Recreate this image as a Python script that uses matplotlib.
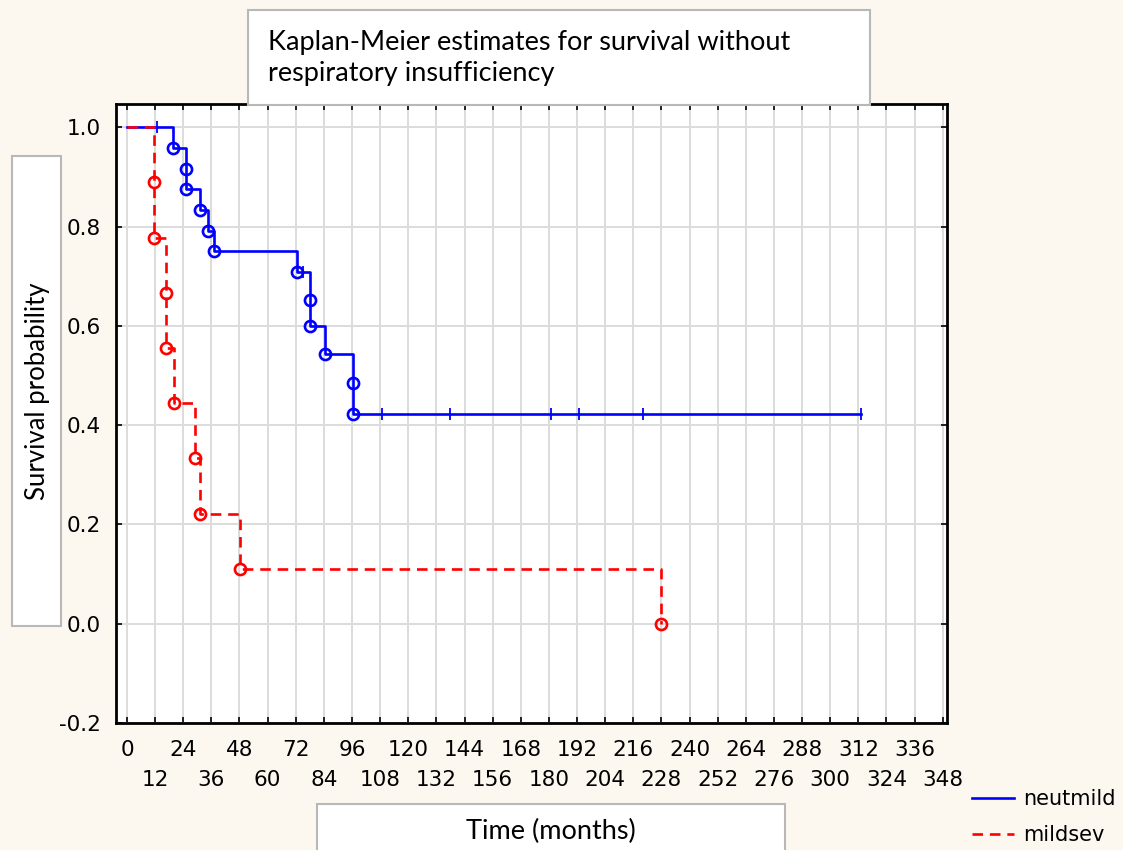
import matplotlib
matplotlib.use("Agg")
import matplotlib.pyplot as plt
from matplotlib.patches import Rectangle

plt.rcParams['font.family'] = ['DejaVu Sans']

# neutmild group: event times (months) and survival after each event
neut_event_t = [19.5, 25, 25, 31, 34.5, 37, 72.5, 78, 78, 84.5, 96.5, 96.5]
neut_surv = [0.958, 0.917, 0.875, 0.833, 0.792, 0.750, 0.708, 0.653, 0.600, 0.544, 0.484, 0.423]
neut_censor_t = [13, 75, 109, 138, 181, 193, 220, 313]
neut_end = 313

# mildsev group
mild_event_t = [11.7, 11.7, 16.7, 16.7, 20, 29, 31.2, 48.3, 228]
mild_surv = [0.889, 0.778, 0.667, 0.556, 0.444, 0.333, 0.222, 0.111, 0.0]

x_major = list(range(0, 337, 24))
x_minor = list(range(12, 349, 24))
y_ticks = [-0.2, 0.0, 0.2, 0.4, 0.6, 0.8, 1.0]

W, H = 1123, 850
BG = '#fdf8ef'
BOX_EC = '#b8b8b8'
BOX_FONT = ['Lato', 'DejaVu Sans']


def surv_at(t, ev_t, ev_s):
    s = 1.0
    for et, es in zip(ev_t, ev_s):
        if et <= t:
            s = es
    return s


fig = plt.figure(figsize=(W / 100, H / 100), dpi=100, facecolor=BG)
ax = fig.add_axes([115.7 / W, (H - 723) / H, (946.7 - 115.7) / W, (723 - 104) / H])
ax.set_facecolor('white')

# step curves
nx = [0] + neut_event_t + [neut_end]
ny = [1.0] + neut_surv + [neut_surv[-1]]
ax.plot(nx, ny, drawstyle='steps-post', color='#0000ff', lw=1.9, label='neutmild', zorder=3)
ax.plot(neut_event_t, neut_surv, 'o', ms=8, mfc='none', mec='#0000ff', mew=1.9, zorder=4)
ax.plot(neut_censor_t, [surv_at(t, neut_event_t, neut_surv) for t in neut_censor_t],
        '|', ms=8, mec='#0000ff', mew=1.3, zorder=4)

mx = [0] + mild_event_t
my = [1.0] + mild_surv
ax.plot(mx, my, drawstyle='steps-post', color='#ff0000', lw=1.9, dashes=(4, 2.6),
        label='mildsev', zorder=5)
ax.plot(mild_event_t, mild_surv, 'o', ms=8, mfc='none', mec='#ff0000', mew=1.9, zorder=6)

ax.set_xlim(-4.8, 349.7)
ax.set_ylim(-0.2, 1.047)
ax.set_xticks(x_major)
ax.set_xticklabels([str(v) for v in x_major])
ax.set_xticks(x_minor, minor=True)
ax.set_xticklabels([str(v) for v in x_minor], minor=True)
ax.set_yticks(y_ticks)
ax.set_yticklabels(['%.1f' % v for v in y_ticks])
ax.grid(True, which='both', axis='x', color='#dcdcdc', lw=1.4)
ax.grid(True, axis='y', color='#dcdcdc', lw=1.4)
ax.set_axisbelow(True)
ax.tick_params(which='both', direction='in', length=4, width=1.2, labelsize=15.5,
               top=True, right=True, colors='black')
ax.tick_params(axis='x', which='major', pad=12)
ax.tick_params(axis='x', which='minor', pad=33.5)
ax.tick_params(axis='y', pad=11)
for sp in ax.spines.values():
    sp.set_linewidth(2)
    sp.set_color('black')

# title box
fig.add_artist(Rectangle((248 / W, 1 - 105 / H), (870 - 248) / W, 95 / H,
                         transform=fig.transFigure, fc='white', ec=BOX_EC, lw=1.5, zorder=5))
fig.text(268 / W, 1 - 50 / H, 'Kaplan-Meier estimates for survival without',
         fontsize=19.5, family=BOX_FONT, va='baseline', zorder=6)
fig.text(268 / W, 1 - 81 / H, 'respiratory insufficiency',
         fontsize=19.5, family=BOX_FONT, va='baseline', zorder=6)

# y label box
fig.add_artist(Rectangle((12 / W, 1 - 626 / H), (61 - 12) / W, (626 - 156) / H,
                         transform=fig.transFigure, fc='white', ec=BOX_EC, lw=1.5, zorder=5))
fig.text(38 / W, 1 - 391 / H, 'Survival probability', rotation=90, fontsize=18.5,
         family=BOX_FONT, ha='center', va='center', zorder=6)

# x label box
fig.add_artist(Rectangle((317 / W, -0.01), (785 - 317) / W, 0.01 + (H - 804) / H,
                         transform=fig.transFigure, fc='white', ec=BOX_EC, lw=1.5, zorder=5))
fig.text(551 / W, 1 - 831 / H, 'Time (months)', fontsize=19.5, family=BOX_FONT,
         ha='center', va='center', zorder=6)

leg = ax.legend(loc='upper left', bbox_to_anchor=(962 / W, 1 - 779 / H),
                bbox_transform=fig.transFigure, frameon=False, fontsize=15,
                handlelength=2.0, handletextpad=0.45, labelspacing=0.75, borderpad=0)

fig.savefig('out.png', dpi=100, facecolor=BG)
